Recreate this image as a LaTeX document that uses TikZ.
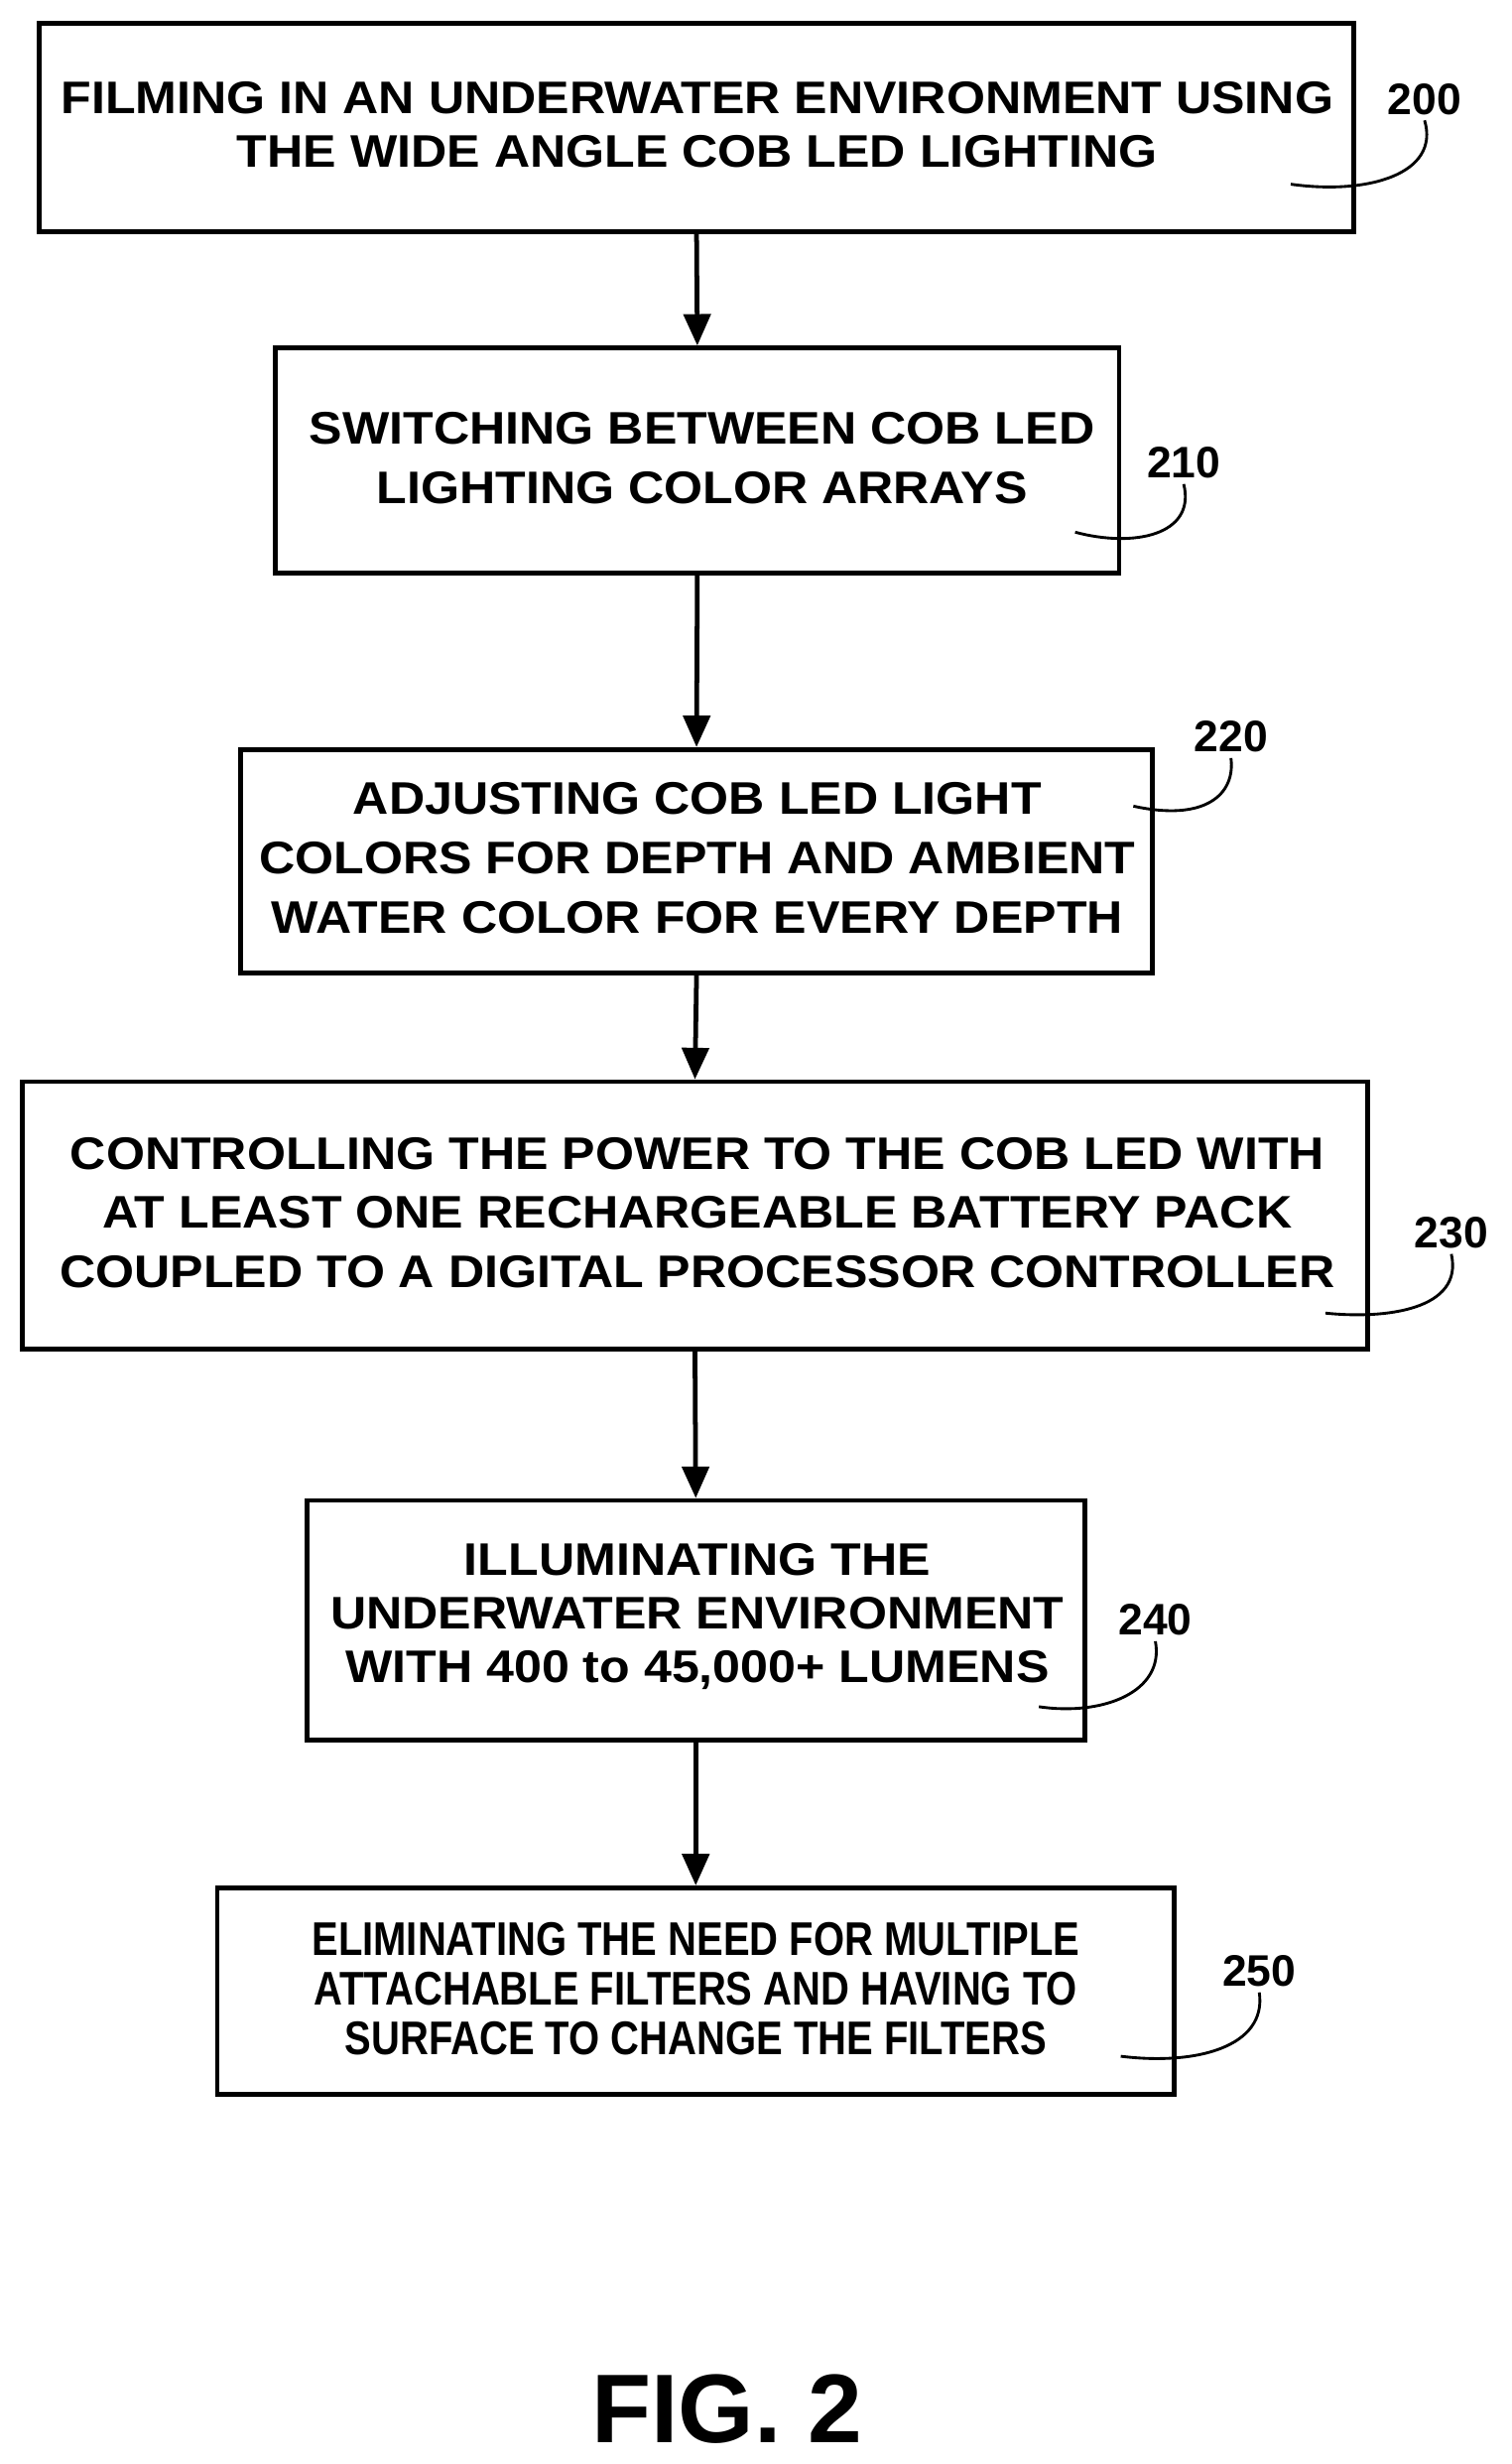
\documentclass[tikz,border=0pt]{standalone}
\usepackage{fontspec}
\setmainfont{Liberation Sans}
\newfontfamily\narrowf[FakeStretch=0.84]{Liberation Sans}
\newfontfamily\widef[FakeStretch=1.09]{Liberation Sans}
\usetikzlibrary{arrows.meta}
\begin{document}
\begin{tikzpicture}[x=1pt,y=-1pt,
  box/.style={draw,line width=3pt,inner sep=0pt},
  txt/.style={align=center},
  lab/.style={font=\fontsize{28}{30}\selectfont\bfseries},
  arr/.style={line width=3pt,-{Triangle[length=20pt,width=17pt]}},
  sq/.style={line width=1.8pt}]
\useasboundingbox (0,0) rectangle (960,1565);
% boxes
\node[box,minimum width=835pt,minimum height=132pt] (b200) at (442.5,81) {};
\node[box,minimum width=536pt,minimum height=143pt] (b210) at (443,292.5) {};
\node[box,minimum width=579pt,minimum height=142pt] (b220) at (442.5,547) {};
\node[box,minimum width=855pt,minimum height=170pt] (b230) at (441.5,772) {};
\node[box,minimum width=494pt,minimum height=152pt] (b240) at (442,1029) {};
\node[box,minimum width=608pt,minimum height=131pt] (b250) at (442,1264.5) {};
% texts
\node[txt,font=\fontsize{29}{34}\widef\bfseries] (t200) at (443,79) {FILMING IN AN UNDERWATER ENVIRONMENT USING\\THE WIDE ANGLE COB LED LIGHTING};
\node[txt,font=\fontsize{29}{38}\widef\bfseries] (t210) at (446,291) {SWITCHING BETWEEN COB LED\\LIGHTING COLOR ARRAYS};
\node[txt,font=\fontsize{29}{38}\widef\bfseries] (t220) at (443,545) {ADJUSTING COB LED LIGHT\\COLORS FOR DEPTH AND AMBIENT\\WATER COLOR FOR EVERY DEPTH};
\node[txt,font=\fontsize{29}{37.5}\widef\bfseries] (t230) at (443,770) {CONTROLLING THE POWER TO THE COB LED WITH\\AT LEAST ONE RECHARGEABLE BATTERY PACK\\COUPLED TO A DIGITAL PROCESSOR CONTROLLER};
\node[txt,font=\fontsize{29}{34}\widef\bfseries] (t240) at (443,1027) {ILLUMINATING THE\\UNDERWATER ENVIRONMENT\\WITH 400 to 45,000+ LUMENS};
\node[txt,font=\fontsize{30}{31.5}\narrowf\bfseries] (t250) at (442,1263) {ELIMINATING THE NEED FOR MULTIPLE\\ATTACHABLE FILTERS AND HAVING TO\\SURFACE TO CHANGE THE FILTERS};
% arrows
\draw[arr] (b200.south) -- (b210.north);
\draw[arr] (b210.south) -- (b220.north);
\draw[arr] (b220.south) -- (b230.north);
\draw[arr] (b230.south) -- (b240.north);
\draw[arr] (b240.south) -- (b250.north);
% labels
\node[lab] (l200) at (905,63) {200};
\node[lab] (l210) at (752,294) {210};
\node[lab] (l220) at (782,468) {220};
\node[lab] (l230) at (922,783) {230};
\node[lab] (l240) at (734,1029) {240};
\node[lab] (l250) at (800,1252) {250};
\coordinate (c200) at (820,117);
\coordinate (c210) at (683,338);
\coordinate (c220) at (720,512);
\coordinate (c230) at (842,834);
\coordinate (c240) at (660,1084);
\coordinate (c250) at (712,1306);
\draw[sq] (c200) .. controls (870,124) and (915,110) .. (l200.south);
\draw[sq] (c210) .. controls (720,348) and (760,340) .. (l210.south);
\draw[sq] (c220) .. controls (765,522) and (785,505) .. (l220.south);
\draw[sq] (c230) .. controls (880,838) and (930,832) .. (l230.south);
\draw[sq] (c240) .. controls (700,1090) and (740,1075) .. (l240.south);
\draw[sq] (c250) .. controls (760,1312) and (805,1300) .. (l250.south);
\node[font=\fontsize{62}{62}\selectfont\bfseries] (fig) at (462,1530) {FIG. 2};
\end{tikzpicture}
\end{document}
